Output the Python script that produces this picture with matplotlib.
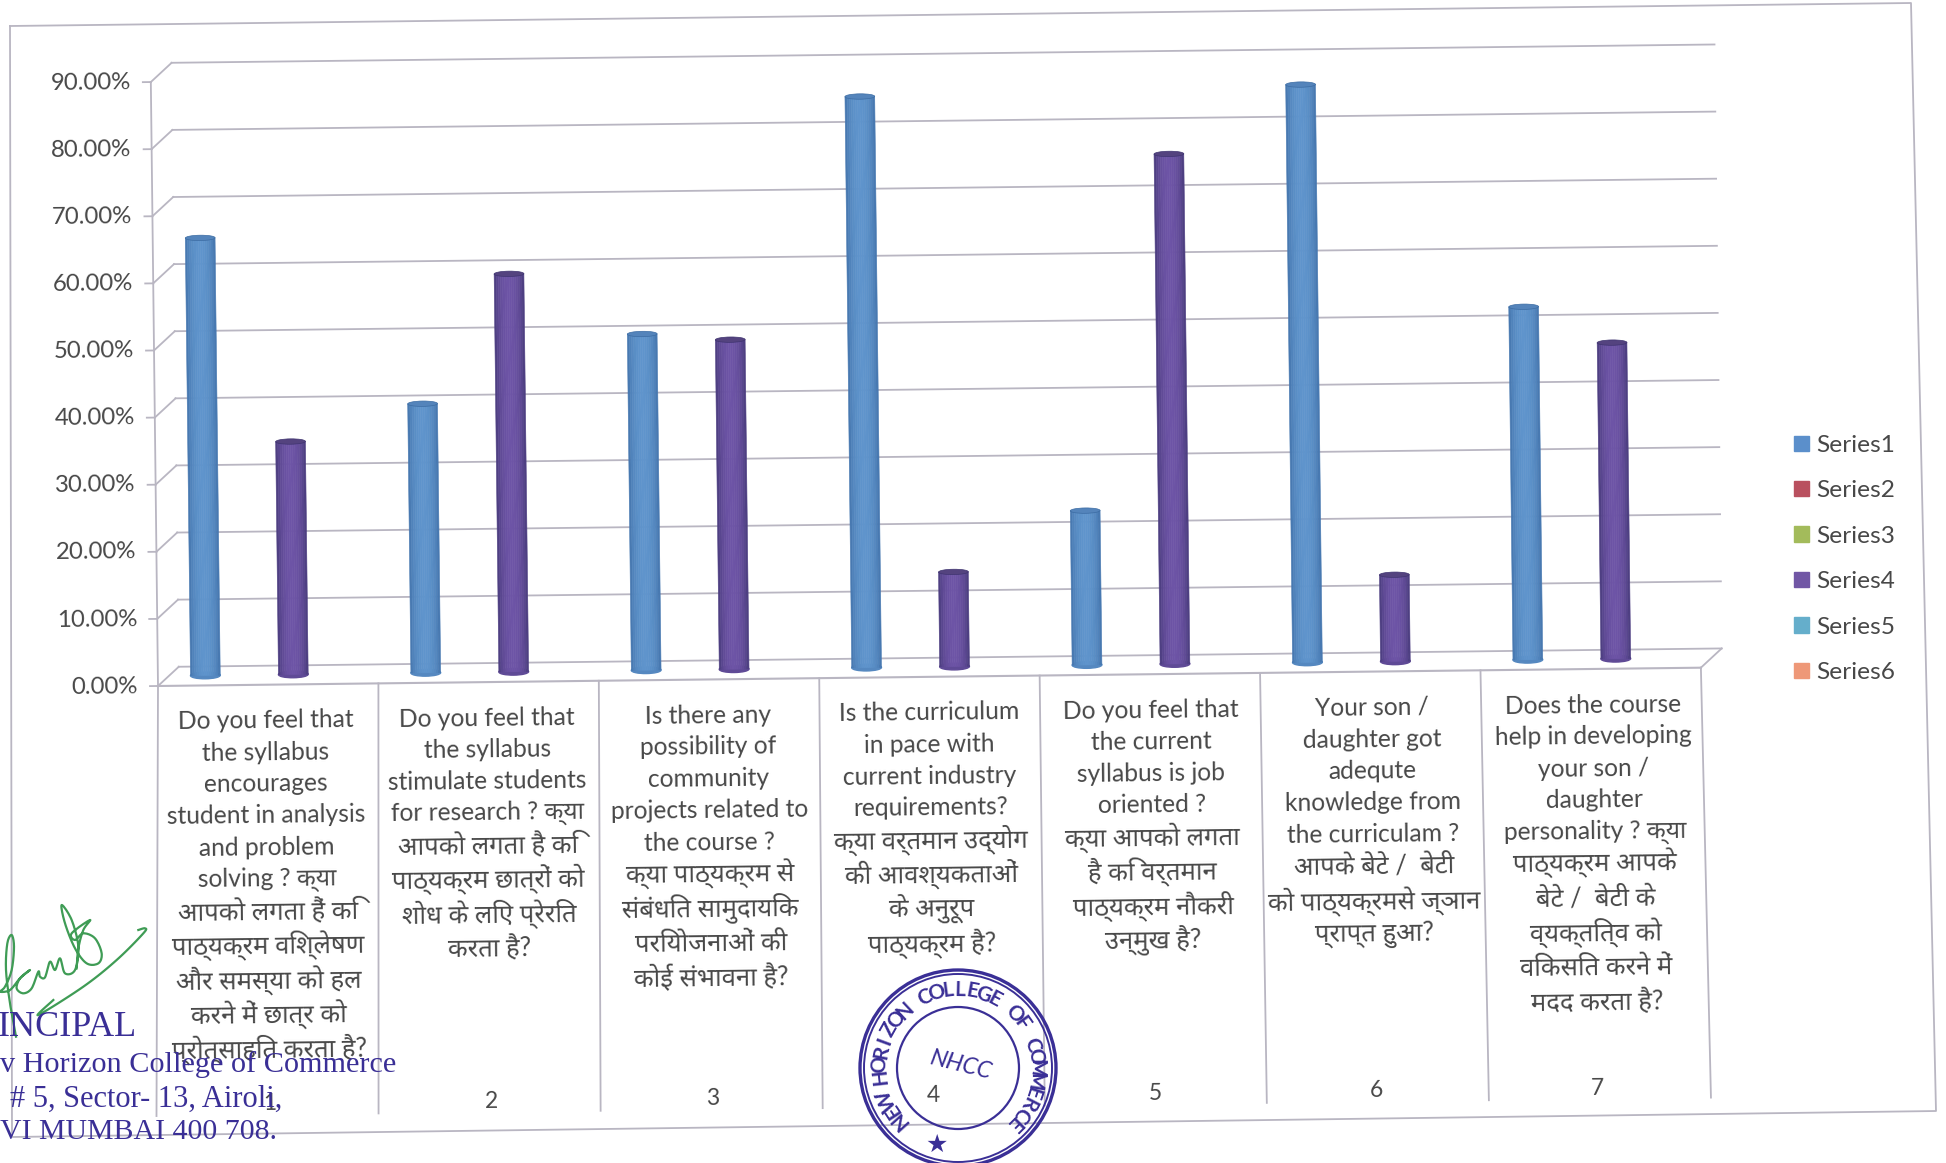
import numpy as np
import matplotlib
matplotlib.use("Agg")
import matplotlib.pyplot as plt
from matplotlib.transforms import Affine2D
from matplotlib.patches import Ellipse, Circle, Patch
from matplotlib.colors import to_rgb

W, H = 1946, 1163

# ---------- data ----------
percent_ticks = [0, 10, 20, 30, 40, 50, 60, 70, 80, 90]
tick_labels = ["0.00%", "10.00%", "20.00%", "30.00%", "40.00%", "50.00%", "60.00%", "70.00%", "80.00%", "90.00%"]
category_numbers = ["1", "2", "3", "4", "5", "6", "7"]
series1 = [65.2, 40.1, 50.1, 85.1, 23.0, 86.1, 52.6]
series4 = [34.7, 59.3, 49.1, 14.1, 76.0, 12.9, 47.1]
series_names = ["Series1", "Series2", "Series3", "Series4", "Series5", "Series6"]
legend_colors = ["#5b8fcb", "#b9505f", "#a3bb5b", "#7157a5", "#65aecb", "#ee9878"]
questions = [
    ["Do you feel that", "the syllabus", "encourages", "student in analysis", "and problem", "solving ? क्या",
     "आपको लगता हैं कि", "पाठ्यक्रम विश्लेषण", "और समस्या को हल", "करने में छात्र को", "प्रोत्साहित करता है?"],
    ["Do you feel that", "the syllabus", "stimulate students", "for research ? क्या", "आपको लगता है कि",
     "पाठ्यक्रम छात्रों को", "शोध के लिए प्रेरित", "करता है?"],
    ["Is there any", "possibility of", "community", "projects related to", "the course ?", "क्या पाठ्यक्रम से",
     "संबंधित सामुदायिक", "परियोजनाओं की", "कोई संभावना है?"],
    ["Is the curriculum", "in pace with", "current industry", "requirements?", "क्या वर्तमान उद्योग",
     "की आवश्यकताओं", "के अनुरूप", "पाठ्यक्रम है?"],
    ["Do you feel that", "the current", "syllabus is job", "oriented ?", "क्या आपको लगता", "है कि वर्तमान",
     "पाठ्यक्रम नौकरी", "उन्मुख है?"],
    ["Your son /", "daughter got", "adequte", "knowledge from", "the curriculam ?", "आपके बेटे /  बेटी",
     "को पाठ्यक्रमसे ज्ञान", "प्राप्त हुआ?"],
    ["Does the course", "help in developing", "your son /", "daughter", "personality ? क्या", "पाठ्यक्रम आपके",
     "बेटे /  बेटी के", "व्यक्तित्व को", "विकसित करने में", "मदद करता है?"],
]
address_lines = ["INCIPAL", "v Horizon College of Commerce", "# 5, Sector- 13, Airoli,", "VI MUMBAI 400 708."]
stamp_text = "NEW HORIZON COLLEGE OF COMMERCE"

# ---------- frame ----------
FONT = ["Lato", "Noto Sans", "DejaVu Sans"]
TEXT = "#484848"
LINE = "#b9b6c2"
TILT = 0.68
plt.rcParams["font.family"] = FONT

fig = plt.figure(figsize=(W / 100, H / 100), dpi=100, facecolor="white")
x0, y0, plot_w, plot_h = 158, 686, 1543, 604
ax = fig.add_axes([x0 / W, (H - y0) / H, plot_w / W, plot_h / H])
ax.set_xlim(0, 7)
ax.set_ylim(0, 90)
ax.axis("off")

tilt = Affine2D().rotate_deg_around(x0, H - y0, TILT)
tr_front = ax.transData + tilt
tr_back = ax.transData + Affine2D().translate(21, 19) + tilt
tr_mid = ax.transData + Affine2D().translate(12, 10) + tilt
px_per_unit = plot_h / 90.0
px_per_cat = plot_w / 7.0

# page overlay in pixels
page = fig.add_axes([0, 0, 1, 1], zorder=5)
page.set_xlim(0, W)
page.set_ylim(H, 0)
page.axis("off")
page.patch.set_alpha(0)

# outer chart border
page.plot([10, 1911, 1936, 12, 10], [26, 3, 1111, 1137, 26], color=LINE, lw=1.3, zorder=1)

# gridlines, walls, ticks
for v, lab in zip(percent_ticks, tick_labels):
    ax.plot([-8 / px_per_cat, 0], [v, v], color=LINE, lw=1.3, transform=tr_front, clip_on=False, zorder=1)
    ax.plot([0, 7], [v, v], color=LINE, lw=1.3, transform=tr_back, clip_on=False, zorder=1)
    # diagonal joining front axis and back wall
    p = tr_front.transform((0, v))
    q = tr_back.transform((0, v))
    ax.plot([p[0], q[0]], [p[1], q[1]], color=LINE, lw=1.3, transform=None, clip_on=False, zorder=1)
    ax.text(-20 / px_per_cat, v, lab, ha="right", va="center", fontsize=17.3, color=TEXT,
            transform=tr_front, rotation=TILT, rotation_mode="anchor", clip_on=False)
ax.plot([0, 0], [0, 90], color=LINE, lw=1.3, transform=tr_front, clip_on=False, zorder=1)
ax.plot([0, 7], [0, 0], color=LINE, lw=1.5, transform=tr_front, clip_on=False, zorder=1)
p = tr_front.transform((7, 0))
q = tr_back.transform((7, 0))
ax.plot([p[0], q[0]], [p[1], q[1]], color=LINE, lw=1.3, transform=None, clip_on=False, zorder=1)

# category dividers
div_bottom = -430 / px_per_unit
for i in range(8):
    ax.plot([i, i * 1.0075 - 0.03], [0, div_bottom], color=LINE, lw=1.3, transform=tr_front, clip_on=False, zorder=1)


def mix(a, b, t):
    a, b = np.array(to_rgb(a)), np.array(to_rgb(b))
    return tuple(a + (b - a) * t)


def cylinder(x, value, dark, light, top):
    w = 0.135
    n = 14
    ax.add_patch(Ellipse((x, 0), w, 1.0, color=mix(dark, light, 0.7), transform=tr_mid, clip_on=False, zorder=3))
    for k in range(n):
        t = (k + 0.5) / n
        shade = np.sin(np.pi * t) ** 0.5
        ax.bar(x - w / 2 + w * t, value, width=w / n, bottom=0, color=mix(dark, light, shade),
               edgecolor=mix(dark, light, shade), linewidth=0.4, transform=tr_mid, clip_on=False, zorder=3)
    ax.add_patch(Ellipse((x, value), w, 0.8, facecolor=top, edgecolor=dark, linewidth=0.5,
                         transform=tr_mid, clip_on=False, zorder=4))


slot = 0.133
first = 0.161
for i in range(7):
    cylinder(i + first + 0 * slot, series1[i], "#3c6ca3", "#5f94cc", "#5484bb")
    cylinder(i + first + 3 * slot, series4[i], "#3f3470", "#6d54a6", "#54437f")

ax.set_xlim(0, 7)
ax.set_ylim(0, 90)

# category labels
first_line = 36
for i, lines in enumerate(questions):
    y_px = first_line
    xc = i * 1.004 + 0.485
    for line in lines:
        is_hindi = all(not ("a" <= c <= "z") for c in line) and any("\u0900" <= c <= "\u097f" for c in line)
        ax.text(xc, -y_px / px_per_unit, line, ha="center", va="center",
                fontsize=18.5 if is_hindi else 17.7, color=TEXT,
                transform=tr_front, rotation=TILT, rotation_mode="anchor", clip_on=False)
        y_px += 34.5 if is_hindi else 31.7
    ax.text(xc, -419 / px_per_unit, category_numbers[i], ha="center", va="center", fontsize=16.5,
            color=TEXT, transform=tr_front, rotation=TILT, rotation_mode="anchor", clip_on=False)

# legend
handles = [Patch(color=c, label=s) for c, s in zip(legend_colors, series_names)]
leg = fig.legend(handles=handles, loc="center left", bbox_to_anchor=(1782 / W, (H - 559) / H), frameon=False,
                 fontsize=17.6, labelcolor=TEXT, handlelength=0.6, handleheight=0.6, handletextpad=0.32,
                 labelspacing=1.0, borderpad=0)

# signature
sig_a = [(48, 440), (30, 340), (18, 240), (22, 160), (35, 135), (42, 170), (35, 240), (15, 290), (0, 305),
         (30, 300), (60, 265), (90, 240), (60, 265), (50, 295), (70, 310), (95, 295), (115, 245), (120, 260),
         (135, 262), (150, 215), (165, 240), (180, 205), (195, 250), (225, 240), (235, 170), (215, 90),
         (185, 45), (195, 100), (225, 175), (260, 220), (295, 220), (305, 190), (285, 145), (250, 130),
         (225, 150), (215, 130), (270, 90), (250, 120), (235, 175), (230, 235)]
sig_b = [(160, 330), (115, 375), (250, 290), (350, 210), (430, 130), (435, 115), (415, 120)]


def smooth(pts, n=10):
    pts = np.array([pts[0]] + list(pts) + [pts[-1]], dtype=float)
    out = []
    for k in range(1, len(pts) - 2):
        p0, p1, p2, p3 = pts[k - 1], pts[k], pts[k + 1], pts[k + 2]
        for t in np.linspace(0, 1, n, endpoint=False):
            out.append(0.5 * (2 * p1 + (p2 - p0) * t + (2 * p0 - 5 * p1 + 4 * p2 - p3) * t ** 2
                              + (3 * p1 - p0 - 3 * p2 + p3) * t ** 3))
    out.append(pts[-2])
    return np.array(out)


for stroke in (sig_a, sig_b):
    c = smooth(stroke)
    page.plot(c[:, 0] / 3, 890 + c[:, 1] / 3, color="#3f9c55", lw=1.6, zorder=6, solid_joinstyle="round")

# principal's address
INK = "#3a2f96"
addr_x = [-2, 0, 10, 0]
addr_y = [1028, 1065, 1099, 1132]
addr_size = [26, 21.8, 22, 21.5]
for s, xx, yy, fs in zip(address_lines, addr_x, addr_y, addr_size):
    page.text(xx, yy, s, family=["Liberation Serif", "DejaVu Serif"], fontsize=fs, color=INK, ha="left",
              va="center", zorder=6)

# college stamp
cx, cy = 958, 1068
for r, lw in [(98, 2.4), (94, 1.4), (61, 1.6)]:
    page.add_patch(Circle((cx, cy), r, fill=False, edgecolor=INK, lw=lw, zorder=6, clip_on=True))
n = len(stamp_text)
angles = np.linspace(222, -45, n)
for ch, a in zip(stamp_text, angles):
    rad = np.deg2rad(a)
    page.text(cx + 78 * np.cos(rad), cy - 78 * np.sin(rad), ch, rotation=a - 90, rotation_mode="anchor",
              ha="center", va="center", fontsize=15, color=INK, fontweight="bold", zorder=6)
page.text(cx - 21, cy + 77, "★", fontsize=18, color=INK, ha="center", va="center", zorder=6,
          family=["DejaVu Sans"])
page.text(cx + 3, cy - 3, "NHCC", fontsize=17, color=INK, ha="center", va="center", rotation=-14,
          rotation_mode="anchor", style="italic", zorder=6)

fig.savefig("out.png", dpi=100)
